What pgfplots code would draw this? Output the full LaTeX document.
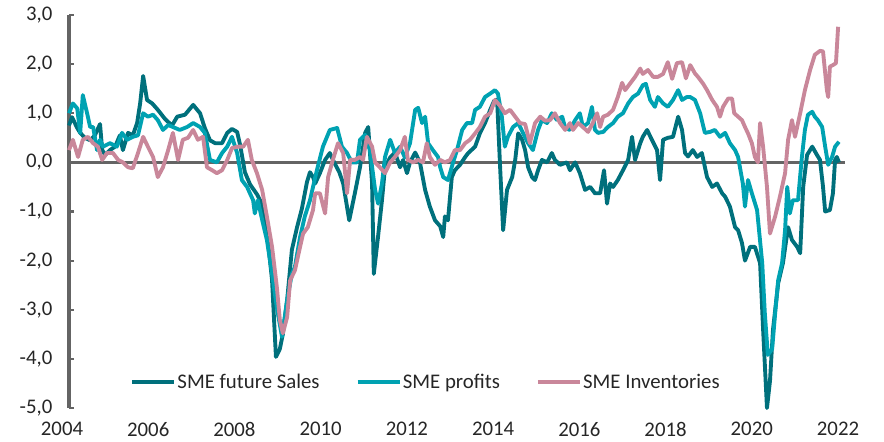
\documentclass[border=0pt]{standalone}
\usepackage{fontspec}
\setmainfont{Carlito}
\usepackage{pgfplots}
\pgfplotsset{compat=1.18}
\definecolor{sales}{RGB}{0,112,124}
\definecolor{profits}{RGB}{0,162,178}
\definecolor{invent}{RGB}{201,135,154}
\definecolor{axgray}{RGB}{100,100,100}
\definecolor{txt}{RGB}{38,38,38}
\begin{document}
\begin{tikzpicture}
\begin{axis}[
  scale only axis, width=582pt, height=294.75pt,
  xmin=2004, xmax=2022, ymin=-5, ymax=3,
  clip=false,
  axis x line*=bottom, axis y line*=left,
  x axis line style={draw=none},
  y axis line style={draw=axgray, line width=2.3pt, -},
  xtick={2004,2006,2008,2010,2012,2014,2016,2018,2020,2022},
  xticklabels={2004,2006,2008,2010,2012,2014,2016,2018,2020,2022},
  ytick={-5,-4,-3,-2,-1,0,1,2,3},
  yticklabels={{-5,0},{-4,0},{-3,0},{-2,0},{-1,0},{0,0},{1,0},{2,0},{3,0}},
  xtick style={draw=none},
  ytick style={draw=axgray, line width=1.6pt},
  tick align=inside, major tick length=4pt,
  tick label style={font=\fontsize{15.6}{18}\selectfont, text=txt},
  xticklabel style={xshift=-5.25pt, yshift=-7pt},
  yticklabel style={xshift=-9pt},
  legend columns=3,
  legend image code/.code={\draw[#1, line width=2.9pt] (0pt,0pt) -- (31.5pt,0pt);},
  legend style={at={(0.0786,0.066)}, anchor=west, draw=none, fill=none, inner sep=0pt,
    font=\fontsize{15.6}{18}\selectfont, text=txt,
    nodes={inner xsep=1pt, inner ysep=2pt},
    /tikz/every even column/.append style={column sep=26pt}},
  every axis plot/.append style={line width=2.9pt, line join=round},
]
\addplot[forget plot, draw=axgray, line width=2.3pt] coordinates {(2004,0) (2022,0)};

% SME future Sales
\addplot[sales] coordinates {
(2004.00,0.75) (2004.07,0.92) (2004.19,0.70) (2004.26,0.60) (2004.37,0.50) (2004.49,0.45)
(2004.60,0.55) (2004.72,0.78) (2004.77,0.25) (2004.84,0.15) (2004.95,0.25) (2005.07,0.32)
(2005.18,0.55) (2005.25,0.25) (2005.37,0.60) (2005.48,0.55) (2005.58,0.80) (2005.65,1.20)
(2005.72,1.76) (2005.81,1.27) (2005.93,1.20) (2006.06,1.07) (2006.23,0.88) (2006.39,0.75)
(2006.51,0.93) (2006.69,0.97) (2006.88,1.17) (2007.04,1.00) (2007.15,0.70) (2007.27,0.45)
(2007.39,0.39) (2007.55,0.39) (2007.67,0.60) (2007.78,0.68) (2007.90,0.62) (2007.97,0.35)
(2008.08,-0.20) (2008.20,-0.45) (2008.36,-0.65) (2008.48,-0.85) (2008.59,-1.40) (2008.71,-2.40)
(2008.80,-3.96) (2008.89,-3.80) (2008.96,-3.50) (2009.06,-2.80) (2009.17,-1.78) (2009.29,-1.32)
(2009.40,-0.95) (2009.52,-0.40) (2009.59,-0.20) (2009.66,-0.30) (2009.71,-0.43) (2009.82,-0.22)
(2009.94,0.05) (2010.05,0.19) (2010.15,0.00) (2010.27,-0.20) (2010.36,-0.43) (2010.50,-1.18)
(2010.63,-0.63) (2010.75,-0.10) (2010.87,0.60) (2010.94,0.72) (2011.03,-0.43) (2011.07,-2.27)
(2011.17,-1.50) (2011.26,-0.77) (2011.33,-0.10) (2011.45,0.10) (2011.56,0.20) (2011.68,-0.10)
(2011.75,0.05) (2011.84,-0.22) (2011.91,0.00) (2012.03,0.20) (2012.14,0.00) (2012.26,-0.56)
(2012.37,-0.90) (2012.49,-1.18) (2012.61,-1.30) (2012.68,-1.52) (2012.72,-1.10) (2012.79,-1.18)
(2012.88,-0.30) (2012.95,-0.16) (2013.07,-0.05) (2013.19,0.11) (2013.26,0.19) (2013.42,0.32)
(2013.53,0.59) (2013.65,0.80) (2013.77,1.07) (2013.86,1.25) (2013.93,1.28) (2014.00,-0.10)
(2014.07,-1.38) (2014.16,-0.56) (2014.28,-0.30) (2014.35,0.05) (2014.42,0.59) (2014.51,0.46)
(2014.58,0.25) (2014.65,-0.10) (2014.74,-0.30) (2014.81,-0.36) (2014.88,-0.16) (2014.97,0.05)
(2015.09,0.00) (2015.20,0.19) (2015.27,0.05) (2015.39,-0.05) (2015.55,0.00) (2015.62,-0.16)
(2015.74,0.00) (2015.85,-0.22) (2015.97,-0.56) (2016.09,-0.50) (2016.20,-0.63) (2016.32,-0.63)
(2016.41,-0.16) (2016.48,-0.84) (2016.55,-0.43) (2016.62,-0.50) (2016.73,-0.36) (2016.85,-0.16)
(2016.97,0.05) (2017.06,0.52) (2017.13,0.05) (2017.25,0.39) (2017.31,0.52) (2017.41,0.66)
(2017.52,0.46) (2017.64,0.25) (2017.71,-0.36) (2017.78,0.46) (2017.89,0.50) (2018.01,0.52)
(2018.13,0.93) (2018.22,0.66) (2018.29,0.19) (2018.36,0.12) (2018.47,0.25) (2018.57,0.11)
(2018.68,0.19) (2018.80,-0.30) (2018.92,-0.50) (2019.03,-0.43) (2019.15,-0.63) (2019.22,-0.70)
(2019.33,-0.90) (2019.45,-1.32) (2019.52,-1.38) (2019.61,-1.64) (2019.68,-2.00) (2019.80,-1.72)
(2019.91,-1.72) (2020.03,-2.05) (2020.10,-3.40) (2020.19,-5.00) (2020.26,-4.45) (2020.33,-3.40)
(2020.45,-2.46) (2020.56,-2.05) (2020.68,-1.32) (2020.77,-1.58) (2020.89,-1.72) (2020.96,-1.85)
(2021.03,-0.50) (2021.12,0.15) (2021.19,0.25) (2021.24,0.32) (2021.35,0.15) (2021.42,0.05)
(2021.49,-0.50) (2021.54,-1.00) (2021.65,-0.97) (2021.72,-0.63) (2021.77,0.05) (2021.81,0.11)
(2021.86,0.00)
};
\addlegendentry{SME future Sales}

% SME profits
\addplot[profits] coordinates {
(2004.00,1.00) (2004.09,1.20) (2004.19,1.10) (2004.26,0.60) (2004.32,1.37) (2004.42,1.00)
(2004.49,0.72) (2004.56,0.72) (2004.65,0.25) (2004.72,0.46) (2004.79,0.32) (2004.95,0.39)
(2005.11,0.32) (2005.23,0.60) (2005.35,0.46) (2005.48,0.52) (2005.60,0.55) (2005.72,1.00)
(2005.83,0.93) (2005.95,0.97) (2006.06,0.86) (2006.18,0.66) (2006.30,0.76) (2006.41,0.72)
(2006.57,0.66) (2006.74,0.72) (2006.88,0.80) (2007.04,0.72) (2007.15,0.60) (2007.27,0.05)
(2007.43,0.00) (2007.55,0.19) (2007.67,0.32) (2007.78,0.52) (2007.90,0.19) (2008.01,-0.36)
(2008.13,-0.50) (2008.27,-0.77) (2008.31,-1.04) (2008.38,-0.77) (2008.48,-1.17) (2008.59,-1.58)
(2008.71,-2.27) (2008.82,-2.95) (2008.94,-3.55) (2009.06,-2.80) (2009.17,-2.27) (2009.24,-2.13)
(2009.36,-1.52) (2009.47,-1.10) (2009.59,-0.77) (2009.66,-0.50) (2009.75,-0.16) (2009.89,0.32)
(2010.05,0.66) (2010.22,0.70) (2010.33,0.32) (2010.45,0.19) (2010.56,0.00) (2010.68,0.00)
(2010.75,0.46) (2010.87,0.56) (2010.98,0.25) (2011.10,-0.56) (2011.17,-0.84) (2011.26,-0.43)
(2011.33,0.11) (2011.45,0.46) (2011.56,0.19) (2011.68,0.32) (2011.79,0.10) (2011.91,0.39)
(2012.03,1.07) (2012.10,1.11) (2012.19,0.80) (2012.26,0.93) (2012.33,0.39) (2012.44,0.25)
(2012.56,0.11) (2012.61,-0.10) (2012.68,-0.30) (2012.79,-0.36) (2012.91,0.00) (2013.00,0.25)
(2013.12,0.66) (2013.23,0.80) (2013.35,0.80) (2013.42,1.07) (2013.53,1.13) (2013.65,1.33)
(2013.77,1.40) (2013.88,1.47) (2013.95,1.40) (2014.04,0.93) (2014.11,0.32) (2014.18,0.52)
(2014.30,0.72) (2014.42,0.80) (2014.53,0.60) (2014.65,0.39) (2014.76,0.25) (2014.88,0.66)
(2014.97,0.86) (2015.09,0.80) (2015.20,1.00) (2015.32,0.86) (2015.44,0.93) (2015.51,0.70)
(2015.62,0.66) (2015.74,0.86) (2015.85,1.00) (2015.92,0.72) (2016.04,0.80) (2016.13,1.13)
(2016.20,0.66) (2016.27,0.60) (2016.39,0.62) (2016.50,0.72) (2016.62,0.80) (2016.73,0.93)
(2016.85,1.00) (2016.97,1.20) (2017.08,1.33) (2017.20,1.40) (2017.31,1.57) (2017.38,1.60)
(2017.48,1.27) (2017.59,1.13) (2017.66,1.33) (2017.78,1.20) (2017.89,1.13) (2018.01,1.27)
(2018.13,1.47) (2018.22,1.27) (2018.33,1.33) (2018.41,1.33) (2018.52,1.27) (2018.64,1.00)
(2018.75,0.60) (2018.87,0.62) (2018.98,0.66) (2019.10,0.52) (2019.22,0.60) (2019.33,0.39)
(2019.45,0.25) (2019.52,0.11) (2019.63,-0.43) (2019.68,-0.90) (2019.75,-0.36) (2019.84,-0.63)
(2019.96,-0.97) (2020.08,-2.05) (2020.14,-3.07) (2020.21,-3.92) (2020.31,-3.80) (2020.38,-3.07)
(2020.45,-2.40) (2020.54,-2.05) (2020.61,-1.38) (2020.66,-0.50) (2020.72,-1.04) (2020.79,-0.77)
(2020.91,-0.77) (2021.00,0.11) (2021.07,0.66) (2021.14,0.97) (2021.24,1.03) (2021.30,0.93)
(2021.37,0.86) (2021.47,0.72) (2021.54,0.32) (2021.61,-0.05) (2021.70,0.11) (2021.77,0.32)
(2021.86,0.42)
};
\addlegendentry{SME profits}

% SME Inventories
\addplot[invent] coordinates {
(2004.00,0.25) (2004.09,0.46) (2004.21,0.11) (2004.32,0.46) (2004.44,0.52) (2004.56,0.39)
(2004.67,0.32) (2004.77,0.05) (2004.88,0.19) (2005.02,0.19) (2005.14,0.05) (2005.25,0.00)
(2005.37,-0.10) (2005.48,-0.12) (2005.60,0.19) (2005.72,0.52) (2005.83,0.32) (2005.95,0.11)
(2006.06,-0.30) (2006.18,-0.10) (2006.30,0.25) (2006.41,0.60) (2006.53,0.05) (2006.64,0.46)
(2006.76,0.50) (2006.88,0.66) (2006.99,0.46) (2007.11,0.52) (2007.20,-0.10) (2007.32,-0.16)
(2007.43,-0.22) (2007.55,-0.16) (2007.67,0.05) (2007.78,0.29) (2007.92,0.32) (2008.04,0.32)
(2008.15,0.46) (2008.24,0.05) (2008.36,-0.22) (2008.48,-0.56) (2008.59,-1.10) (2008.71,-1.72)
(2008.82,-2.53) (2008.89,-3.20) (2008.96,-3.48) (2009.06,-3.15) (2009.13,-2.40) (2009.24,-2.20)
(2009.36,-1.72) (2009.43,-1.45) (2009.54,-1.32) (2009.66,-0.97) (2009.71,-0.63) (2009.82,-0.63)
(2009.94,-1.04) (2010.01,-0.30) (2010.12,0.05) (2010.24,0.39) (2010.36,0.19) (2010.45,-0.63)
(2010.52,0.05) (2010.63,0.05) (2010.75,0.11) (2010.82,0.05) (2010.91,0.52) (2011.03,0.32)
(2011.10,0.00) (2011.21,-0.10) (2011.33,-0.22) (2011.45,0.00) (2011.56,0.11) (2011.68,0.25)
(2011.79,0.52) (2011.86,0.05) (2011.98,0.00) (2012.10,0.05) (2012.21,0.00) (2012.30,0.39)
(2012.37,0.11) (2012.49,-0.05) (2012.61,0.05) (2012.72,0.00) (2012.84,0.05) (2012.95,0.25)
(2013.07,0.25) (2013.19,0.39) (2013.30,0.46) (2013.42,0.59) (2013.53,0.72) (2013.65,0.93)
(2013.77,1.00) (2013.88,1.27) (2014.00,1.15) (2014.11,1.00) (2014.23,1.07) (2014.35,0.93)
(2014.46,0.80) (2014.58,0.78) (2014.69,0.39) (2014.81,0.80) (2014.93,0.93) (2015.04,0.85)
(2015.16,0.86) (2015.27,1.00) (2015.39,0.80) (2015.51,0.66) (2015.62,0.80) (2015.69,0.66)
(2015.81,0.80) (2015.92,0.72) (2016.04,0.62) (2016.15,0.80) (2016.25,1.00) (2016.32,0.72)
(2016.39,0.93) (2016.50,0.97) (2016.62,1.07) (2016.73,1.33) (2016.83,1.62) (2016.90,1.47)
(2017.01,1.60) (2017.13,1.74) (2017.25,1.91) (2017.31,1.80) (2017.43,1.88) (2017.55,1.74)
(2017.66,1.74) (2017.78,1.80) (2017.89,2.04) (2017.99,1.70) (2018.10,2.02) (2018.22,2.04)
(2018.31,1.71) (2018.41,1.98) (2018.52,1.81) (2018.59,1.74) (2018.71,1.60) (2018.80,1.47)
(2018.92,1.27) (2019.03,1.13) (2019.10,0.93) (2019.17,1.13) (2019.29,1.30) (2019.38,1.30)
(2019.43,1.00) (2019.52,0.93) (2019.61,0.86) (2019.68,0.72) (2019.75,0.59) (2019.84,0.39)
(2019.91,0.11) (2019.98,0.00) (2020.03,0.80) (2020.10,0.32) (2020.19,-0.50) (2020.26,-1.45)
(2020.38,-1.10) (2020.49,-0.70) (2020.61,-0.22) (2020.68,0.46) (2020.77,0.86) (2020.84,0.52)
(2020.96,1.00) (2021.07,1.47) (2021.19,1.88) (2021.30,2.19) (2021.42,2.27) (2021.49,2.26)
(2021.58,1.47) (2021.61,1.33) (2021.65,1.95) (2021.72,1.98) (2021.79,2.02) (2021.84,2.76)
};
\addlegendentry{SME Inventories}
\end{axis}
\pgfresetboundingbox
\path[use as bounding box] ([xshift=-51.75pt, yshift=11.25pt]current axis.north west) rectangle ([xshift=29.25pt, yshift=-25.5pt]current axis.south east);
\end{tikzpicture}
\end{document}
